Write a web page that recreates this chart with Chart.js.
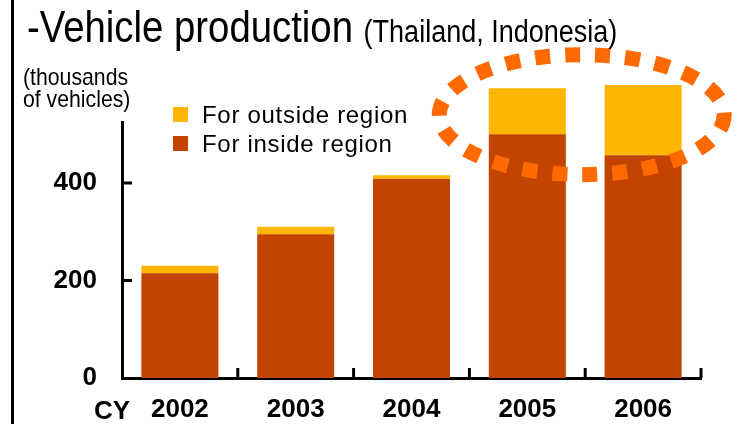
<!DOCTYPE html>
<html>
<head>
<meta charset="utf-8">
<script src="https://cdn.jsdelivr.net/npm/chart.js@4.4.1/dist/chart.umd.min.js"></script>
<style>
  html, body { margin: 0; padding: 0; background: #fff; }
  #wrap { position: relative; width: 737px; height: 424px; overflow: hidden; }
  #frame { position: absolute; left: 11px; top: 0; width: 3px; height: 424px; background: #000; }
  #title { position: absolute; left: 27px; top: 5px; white-space: nowrap;
           font-family: "Liberation Sans", Arial, sans-serif;
           font-size: 44px; line-height: 44px; color: #000;
           transform: scaleX(0.871); transform-origin: 0 0; }
  #title small { font-size: 31px; }
  #unit { position: absolute; left: 23px; top: 66px; white-space: nowrap;
          font-family: "Liberation Sans", Arial, sans-serif;
          font-size: 24px; line-height: 22px; color: #000;
          transform: scaleX(0.885); transform-origin: 0 0; }
  #legend { position: absolute; left: 173px; top: 100px;
            font-family: "Liberation Sans", Arial, sans-serif; font-size: 24px; letter-spacing: 0.7px; }
  #legend div { position: relative; height: 29px; line-height: 29px; padding-left: 29px; white-space: nowrap; }
  #legend span { position: absolute; left: 0; top: 7px; width: 15px; height: 15px; }
  canvas { position: absolute; left: 0; top: 0; }
</style>
</head>
<body>
<div id="wrap">
  <canvas id="chart" width="737" height="424"></canvas>
  <div id="frame"></div>
  <div id="title">-Vehicle production <small>(Thailand, Indonesia)</small></div>
  <div id="unit">(thousands<br>of vehicles)</div>
  <div id="legend"></div>
</div>
<script>
const years = ['2002', '2003', '2004', '2005', '2006'];
const insideRegion = [215, 295, 408, 500, 457];
const outsideRegion = [15, 15, 8, 94, 144];
const yTicks = [0, 200, 400];

const insideColor = '#C24400';
const outsideColor = '#FFB600';
const ringColor = '#FF6A00';

// dotted ring around 2005-2006, in axis units
const ring = { x: 3.47, y: 540, rx: 1.23, ry: 123 };

const axisTicks = {
    id: 'axisTicks',
    afterDatasetsDraw(chart) {
        const ctx = chart.ctx;
        const x = chart.scales.x;
        const y = chart.scales.y;

        ctx.save();
        ctx.strokeStyle = '#000';
        ctx.lineWidth = 3;
        ctx.beginPath();
        yTicks.slice(1).forEach(v => {
            const py = y.getPixelForValue(v);
            ctx.moveTo(x.left, py);
            ctx.lineTo(x.left + 10, py);
        });
        for (let i = 1; i <= years.length; i++) {
            const px = x.getPixelForValue(i - 0.5);
            ctx.moveTo(px, y.bottom);
            ctx.lineTo(px, y.bottom - 10);
        }
        ctx.stroke();

        // ring
        const cx = x.getPixelForValue(ring.x);
        const cy = y.getPixelForValue(ring.y);
        const rx = (x.getPixelForValue(1) - x.getPixelForValue(0)) * ring.rx;
        const ry = y.getPixelForValue(0) - y.getPixelForValue(ring.ry);
        ctx.strokeStyle = ringColor;
        ctx.lineWidth = 15;
        ctx.setLineDash([15, 15]);
        ctx.beginPath();
        ctx.ellipse(cx, cy, rx, ry, 0, 0, Math.PI * 2);
        ctx.stroke();
        ctx.setLineDash([]);

        ctx.fillStyle = '#000';
        ctx.font = 'bold 26px "Liberation Sans", Arial, sans-serif';
        ctx.textAlign = 'center';
        ctx.textBaseline = 'alphabetic';
        ctx.fillText('CY', x.left - 10, 419);
        ctx.restore();
    }
};

const chart = new Chart(document.getElementById('chart'), {
    type: 'bar',
    data: {
        labels: years,
        datasets: [
            {
                label: 'For inside region',
                data: insideRegion,
                backgroundColor: insideColor,
                barPercentage: 0.665,
                categoryPercentage: 1,
                clip: false,
            },
            {
                label: 'For outside region',
                data: outsideRegion,
                backgroundColor: outsideColor,
                barPercentage: 0.665,
                categoryPercentage: 1,
                clip: false,
            }
        ]
    },
    options: {
        responsive: false,
        animation: false,
        layout: { padding: { left: 0, right: 36, top: 122, bottom: 0 } },
        plugins: { legend: { display: false }, tooltip: { enabled: false } },
        scales: {
            x: {
                stacked: true,
                grid: { display: false, drawTicks: false },
                border: { display: true, color: '#000', width: 3 },
                ticks: { color: '#000', padding: 16, font: { family: '"Liberation Sans", Arial, sans-serif', size: 26, weight: 'bold' } },
                afterFit: s => { s.height = 46; }
            },
            y: {
                stacked: true,
                min: 0,
                max: 525,
                grid: { display: false, drawTicks: false },
                border: { display: true, color: '#000', width: 3 },
                afterBuildTicks: s => { s.ticks = yTicks.map(v => ({ value: v })); },
                ticks: { color: '#000', padding: 25, font: { family: '"Liberation Sans", Arial, sans-serif', size: 26, weight: 'bold' } },
                afterFit: s => { s.width = 122; }
            }
        }
    },
    plugins: [axisTicks]
});

// legend, outside region on top
const legend = document.getElementById('legend');
chart.data.datasets.slice().reverse().forEach(ds => {
    legend.innerHTML += `<div><span style="background:${ds.backgroundColor}"></span>${ds.label}</div>`;
});
</script>
</body>
</html>
